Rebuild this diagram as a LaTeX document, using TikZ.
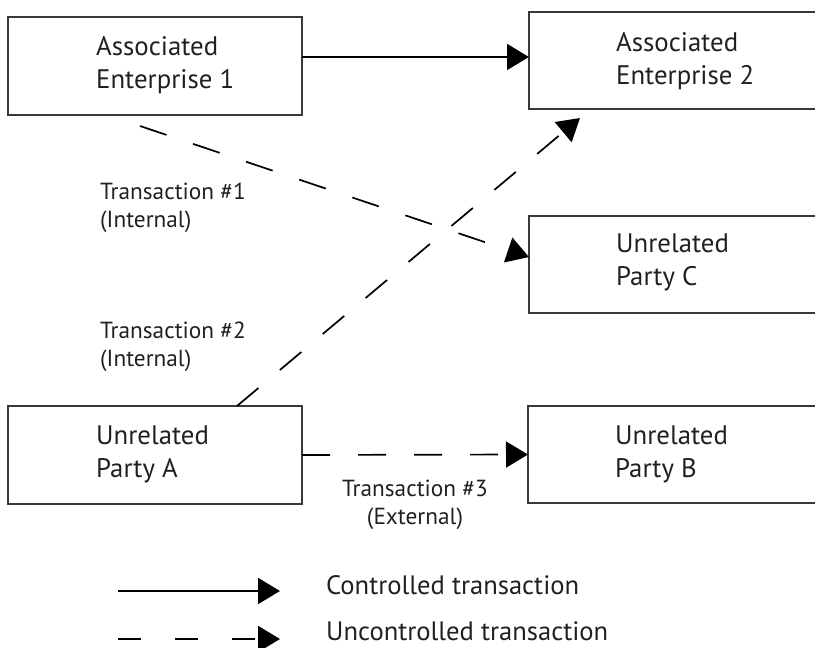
\documentclass[tikz,border=0pt]{standalone}
\usepackage{fontspec}
\setmainfont{PT Sans}
\usetikzlibrary{arrows.meta,calc}
\definecolor{txt}{HTML}{231F20}
\definecolor{edge}{HTML}{383838}
\begin{document}
\begin{tikzpicture}[x=1pt,y=-1pt,
  box/.style={draw=edge,line width=1.2pt,rectangle,anchor=north west,minimum width=294pt,inner sep=0pt,outer sep=0pt},
  boxtext/.style={anchor=base west,align=left,inner sep=0pt,text=txt,font=\fontsize{26.8}{33}\selectfont},
  lbl/.style={inner sep=0pt,text=txt,font=\fontsize{23.3}{28}\selectfont},
  legtext/.style={anchor=base west,inner sep=0pt,text=txt,font=\fontsize{26.6}{30}\selectfont},
  ctrl/.style={line width=1.7pt,-{Triangle[length=22pt,width=26pt]}},
  unctrl/.style={ctrl,dash pattern=on 28pt off 28pt},
]
\clip (0,0) rectangle (815,648);
% boxes
\node[box,minimum height=98pt] (ae1) at (8,17) {};
\node[box,minimum height=97pt] (ae2) at (529,12) {};
\node[box,minimum height=97pt] (pc) at (529,216) {};
\node[box,minimum height=98pt] (pa) at (8,406) {};
\node[box,minimum height=97pt] (pb) at (528,406) {};
% box texts (anchor = baseline of last line)
\node[boxtext] (ae1t) at (96,88) {Associated\\Enterprise 1};
\node[boxtext] (ae2t) at (616,84) {Associated\\Enterprise 2};
\node[boxtext] (pct) at (616,285) {Unrelated\\Party C};
\node[boxtext] (pat) at (96,477) {Unrelated\\Party A};
\node[boxtext] (pbt) at (615,477) {Unrelated\\Party B};
% connectors
\coordinate (c1s) at ($(ae1.north east)+(0,40)$);
\coordinate (c1e) at (c1s -| ae2.west);
\draw[ctrl] (c1s) -- (c1e);
\coordinate (t1s) at (140,126);
\coordinate (t1e) at ($(pc.north west)+(0,41)$);
\draw[unctrl] (t1s) -- (t1e);
\coordinate (t2s) at ($(pa.north west)+(229,0)$);
\coordinate (t2e) at ($(ae2.south west)+(51,9)$);
\draw[unctrl] (t2s) -- (t2e);
\draw[unctrl] (pa.east) -- (pb.west);
% labels (anchor = baseline of last line)
\node[lbl,anchor=base west,align=left] (t1) at (100,227) {Transaction \#1\\(Internal)};
\node[lbl,anchor=base west,align=left] (t2) at (100,366) {Transaction \#2\\(Internal)};
\node[lbl,anchor=base,align=center] (t3) at (415,524) {Transaction \#3\\(External)};
% legend
\coordinate (l1s) at (118,591);
\coordinate (l1e) at (280,591);
\coordinate (l2s) at (118,639);
\coordinate (l2e) at (280,639);
\draw[ctrl] (l1s) -- (l1e);
\draw[ctrl,dash pattern=on 23pt off 34pt] (l2s) -- (l2e);
\node[legtext] (lt1) at (326,594) {Controlled transaction};
\node[legtext] (lt2) at (326,640) {Uncontrolled transaction};
\end{tikzpicture}
\end{document}
